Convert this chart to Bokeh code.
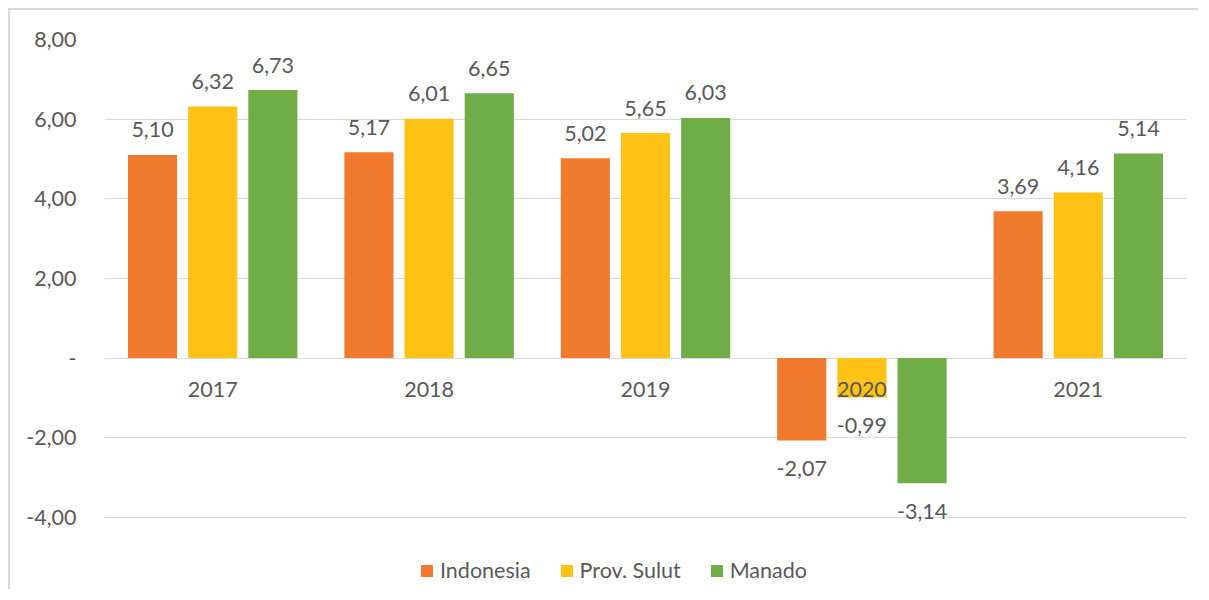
from bokeh.plotting import figure
from bokeh.models import ColumnDataSource, Range1d, FactorRange, CustomJSTickFormatter, Legend, LegendItem
from bokeh.transform import dodge
from bokeh.core.properties import value
from bokeh.embed import file_html
from bokeh.resources import INLINE

years = ["2017", "2018", "2019", "2020", "2021"]
series = ["Indonesia", "Prov. Sulut", "Manado"]
indonesia = [5.10, 5.17, 5.02, -2.07, 3.69]
sulut = [6.32, 6.01, 5.65, -0.99, 4.16]
manado = [6.73, 6.65, 6.03, -3.14, 5.14]
y_ticks = [-4, -2, 0, 2, 4, 6, 8]
colors = ["#F07B2E", "#FFC215", "#70AD47"]
offsets = [-0.278, 0.0, 0.278]
FONT = "Lato"
TXT = "#595959"
FS = "21.5px"

# frame spans from the 8,00 gridline down to the bottom of the canvas (legend lives there)
p = figure(x_range=FactorRange(*years), y_range=Range1d(-5.86, 8),
           width=1190, height=581, output_backend="svg", toolbar_location=None,
           min_border_top=29, min_border_left=94, min_border_right=14, min_border_bottom=0)
p.styles = {"border-top": "2px solid #d9d9d9", "border-left": "2px solid #d9d9d9",
            "margin-top": "8px", "margin-left": "8px"}
p.outline_line_color = None
p.background_fill_color = "white"

p.ygrid.grid_line_color = "#d9d9d9"
p.ygrid.grid_line_width = 1
p.xgrid.grid_line_color = None
p.yaxis.ticker = y_ticks
p.yaxis.formatter = CustomJSTickFormatter(code="if (tick == 0) { return '-'; } return tick.toFixed(2).replace('.', ',');")
p.yaxis.axis_line_color = None
p.yaxis.major_tick_line_color = None
p.yaxis.minor_tick_line_color = None
p.yaxis.major_label_standoff = 22
p.yaxis.major_label_text_font = FONT
p.yaxis.major_label_text_font_size = FS
p.yaxis.major_label_text_color = TXT
p.xaxis.visible = False

items = []
for name, vals, col, off in zip(series, [indonesia, sulut, manado], colors, offsets):
    src = ColumnDataSource(dict(
        year=years, val=vals,
        label=[f"{v:.2f}".replace(".", ",") for v in vals],
        yoff=[-25 if v >= 0 else 28 for v in vals],
    ))
    r = p.vbar(x=dodge("year", off, range=p.x_range), top="val", bottom=0, width=0.227,
               source=src, fill_color=col, line_color=None)
    p.text(x=dodge("year", off, range=p.x_range), y="val", text="label", y_offset="yoff",
           source=src, text_align="center", text_baseline="middle",
           text_font=value(FONT), text_font_size=FS, text_color=TXT)
    items.append(LegendItem(label=name, renderers=[r]))

# category labels sitting just under the zero line (drawn over the bars, as in the original)
cat_src = ColumnDataSource(dict(year=years, zero=[0] * len(years)))
p.text(x="year", y="zero", text="year", source=cat_src, y_offset=31,
       text_align="center", text_baseline="middle",
       text_font=value(FONT), text_font_size=FS, text_color=TXT)

legend = Legend(items=items, orientation="horizontal", location=(315, 8),
                padding=0, margin=0, spacing=28, label_standoff=6,
                glyph_width=15, glyph_height=15,
                label_text_font=FONT, label_text_font_size=FS, label_text_color=TXT,
                border_line_color=None, background_fill_alpha=0)
p.add_layout(legend, "center")

open("out.html", "w").write(file_html(p, INLINE))
